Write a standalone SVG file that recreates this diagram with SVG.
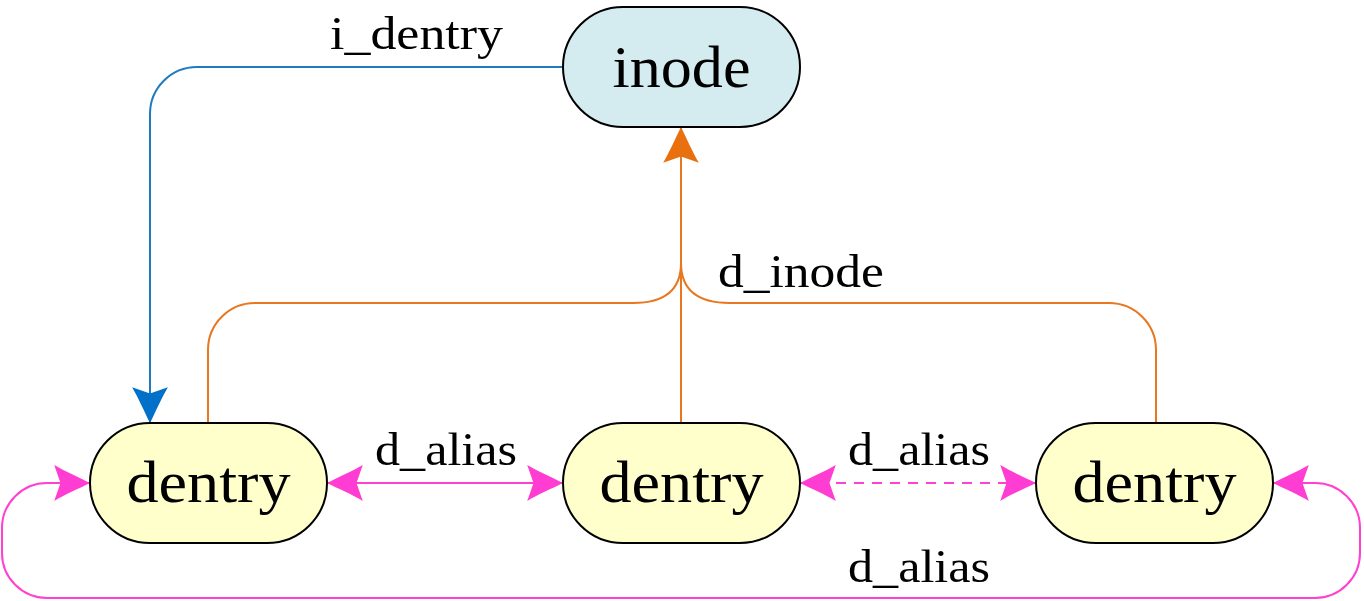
<svg xmlns="http://www.w3.org/2000/svg" width="1364" height="601" viewBox="0 0 1364 601">
<style>
.node{stroke:#000;stroke-width:2}
.inode{fill:#d4ebf0}
.dentry{fill:#ffffcc}
.big{font-family:"Liberation Serif","DejaVu Serif",serif;font-size:60px;text-anchor:middle;fill:#000}
.lbl{font-family:"Liberation Serif","DejaVu Serif",serif;font-size:46px;fill:#000}
.blue{fill:none;stroke:#1f7ac0;stroke-width:2}
.orange{fill:none;stroke:#e8771f;stroke-width:2}
.pink{fill:none;stroke:#ff40d0;stroke-width:2}
</style>
<defs>
<marker id="aBlue" markerUnits="userSpaceOnUse" markerWidth="40" markerHeight="40" viewBox="-36 -18 38 36" refX="0" refY="0" orient="auto">
<path d="M0,0 C-10,-5 -24,-11 -34,-17 L-28,0 L-34,17 C-24,11 -10,5 0,0 Z" fill="#0070c8"/>
</marker>
<marker id="aOrange" markerUnits="userSpaceOnUse" markerWidth="40" markerHeight="40" viewBox="-36 -18 38 36" refX="0" refY="0" orient="auto">
<path d="M0,0 C-10,-5 -24,-11 -34,-17 L-28,0 L-34,17 C-24,11 -10,5 0,0 Z" fill="#e8700f"/>
</marker>
<marker id="aPink" markerUnits="userSpaceOnUse" markerWidth="40" markerHeight="40" viewBox="-36 -18 38 36" refX="0" refY="0" orient="auto-start-reverse">
<path d="M0,0 C-10,-5 -24,-11 -34,-17 L-28,0 L-34,17 C-24,11 -10,5 0,0 Z" fill="#ff3dd2"/>
</marker>
</defs>

<g id="connectors">
<path class="blue" d="M563,67 L197,67 A47,47 0 0 0 150,114 L150,423" marker-end="url(#aBlue)"/>
<path class="orange" d="M681,423 L681,127" marker-end="url(#aOrange)"/>
<path class="orange" d="M208,423 L208,350 A47,47 0 0 1 255,303 L633,303 Q681,303 681,263"/>
<path class="orange" d="M1156,423 L1156,350 A47,47 0 0 0 1109,303 L730,303 Q681,303 681,263"/>
<path class="pink" d="M327,483 L563,483" marker-start="url(#aPink)" marker-end="url(#aPink)"/>
<path class="pink" d="M800,483 L1036,483" stroke-dasharray="10,8" marker-start="url(#aPink)" marker-end="url(#aPink)"/>
<path class="pink" d="M1273,483 L1315,483 A45,45 0 0 1 1360,528 L1360,553 A45,45 0 0 1 1315,598 L47,598 A45,45 0 0 1 2,553 L2,528 A45,45 0 0 1 47,483 L90,483" marker-start="url(#aPink)" marker-end="url(#aPink)"/>
<text class="lbl" x="330" y="49" textLength="173" lengthAdjust="spacingAndGlyphs">i_dentry</text>
<text class="lbl" x="718" y="287" textLength="166" lengthAdjust="spacingAndGlyphs">d_inode</text>
<text class="lbl" x="375" y="465" textLength="142" lengthAdjust="spacingAndGlyphs">d_alias</text>
<text class="lbl" x="848" y="465" textLength="142" lengthAdjust="spacingAndGlyphs">d_alias</text>
<text class="lbl" x="848" y="582" textLength="142" lengthAdjust="spacingAndGlyphs">d_alias</text>
</g>

<g id="inode">
<rect class="node inode" x="563" y="7" width="237" height="120" rx="60" ry="60"/>
<text class="big" x="681.5" y="87" textLength="138" lengthAdjust="spacingAndGlyphs">inode</text>
</g>
<g id="dentry1">
<rect class="node dentry" x="90" y="423" width="237" height="120" rx="60" ry="60"/>
<text class="big" x="208.5" y="502" textLength="164" lengthAdjust="spacingAndGlyphs">dentry</text>
</g>
<g id="dentry2">
<rect class="node dentry" x="563" y="423" width="237" height="120" rx="60" ry="60"/>
<text class="big" x="681.5" y="502" textLength="164" lengthAdjust="spacingAndGlyphs">dentry</text>
</g>
<g id="dentry3">
<rect class="node dentry" x="1036" y="423" width="237" height="120" rx="60" ry="60"/>
<text class="big" x="1154.5" y="502" textLength="164" lengthAdjust="spacingAndGlyphs">dentry</text>
</g>
</svg>
